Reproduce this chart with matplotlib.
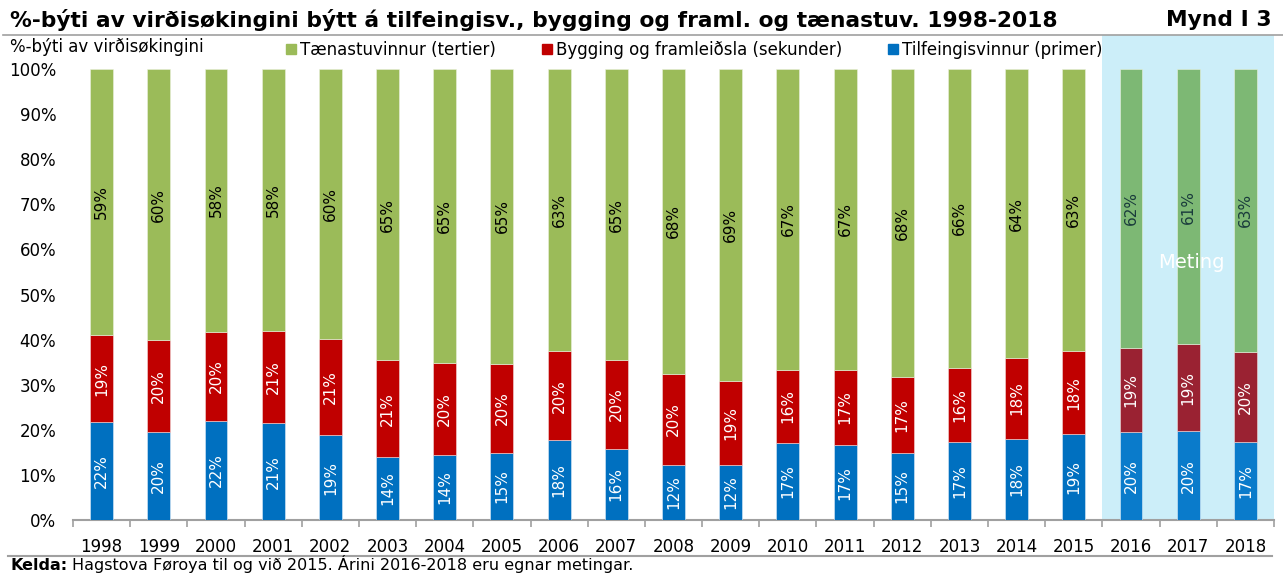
import matplotlib
matplotlib.use("Agg")
import matplotlib.pyplot as plt
from matplotlib.patches import Rectangle, Patch
from matplotlib.lines import Line2D
import numpy as np

years = [str(y) for y in range(1998, 2019)]
primer = [21.7, 19.5, 22.0, 21.4, 18.8, 14.0, 14.4, 14.9, 17.7, 15.8, 12.2,
          12.2, 17.1, 16.6, 14.9, 17.4, 18.0, 19.0, 19.6, 19.7, 17.3]
sekunder = [19.3, 20.4, 19.7, 20.6, 21.3, 21.4, 20.4, 19.7, 19.7, 19.6, 20.2,
            18.6, 16.2, 16.7, 16.8, 16.4, 17.9, 18.4, 18.6, 19.3, 20.0]
tertier = [59.0, 60.1, 58.3, 58.0, 59.9, 64.6, 65.2, 65.4, 62.6, 64.6, 67.6,
           69.2, 66.7, 66.7, 68.3, 66.2, 64.1, 62.6, 61.8, 61.0, 62.7]
n_estimated = 3  # 2016-2018 are estimates

GREEN, RED, BLUE = '#9BBB59', '#C00000', '#0070C0'
GREEN_E, RED_E, BLUE_E = '#7DB874', '#9A2232', '#0A7BCB'
HIGHLIGHT = '#CCEEF9'

plt.rcParams['font.family'] = ['DejaVu Sans']

fig = plt.figure(figsize=(12.83, 5.74), dpi=100)
W, H = 1283, 574
ax = fig.add_axes([73 / W, 1 - 520 / H, (1274 - 73) / W, (520 - 69) / H])

x = np.arange(len(years))
est = x >= len(years) - n_estimated
p = np.array(primer)
s = np.array(sekunder)
t = np.array(tertier)

col_b = [BLUE_E if e else BLUE for e in est]
col_r = [RED_E if e else RED for e in est]
col_g = [GREEN_E if e else GREEN for e in est]

bw = 0.4
ax.bar(x, p, bw, color=col_b, edgecolor='#DDEBF7', linewidth=0.4, zorder=3)
ax.bar(x, s, bw, bottom=p, color=col_r, edgecolor='#F2DCDB', linewidth=0.4, zorder=3)
ax.bar(x, t, bw, bottom=p + s, color=col_g, edgecolor='#EBF1DE', linewidth=0.4, zorder=3)

lab_fs = 11
for i in range(len(years)):
    ax.text(x[i], p[i] / 2, f"{p[i]:.0f}%", rotation=90, ha='center', va='center',
            color='white', fontsize=lab_fs, zorder=4)
    ax.text(x[i], p[i] + s[i] / 2, f"{s[i]:.0f}%", rotation=90, ha='center', va='center',
            color='white', fontsize=lab_fs, zorder=4)
    ax.text(x[i], p[i] + s[i] + t[i] / 2, f"{t[i]:.0f}%", rotation=90, ha='center',
            va='center', color='#1A3C3C' if est[i] else 'black', fontsize=lab_fs, zorder=4)

# estimate shading
ax.add_patch(Rectangle((len(years) - n_estimated - 0.5, 0), n_estimated, 1.075,
                       transform=ax.get_xaxis_transform(), color=HIGHLIGHT,
                       clip_on=False, zorder=0, linewidth=0))
ax.text(len(years) - 2 + 0.05, 57, "Meting", color='white', fontsize=14,
        ha='center', va='center', zorder=5)

ax.set_xlim(-0.5, len(years) - 0.5)
ax.set_ylim(0, 100)
ax.set_yticks(np.arange(0, 101, 10))
ax.set_yticklabels([f"{v}%" for v in range(0, 101, 10)])
ax.set_xticks(x)
ax.set_xticklabels(years)
ax.set_xticks(np.arange(-0.5, len(years), 1), minor=True)
ax.tick_params(axis='y', length=0, pad=12, labelsize=12)
ax.tick_params(axis='x', which='major', length=0, pad=13, labelsize=12)
ax.tick_params(axis='x', which='minor', length=5, width=1.2, color='#A0A0A0')
for side in ['left', 'right', 'top']:
    ax.spines[side].set_visible(False)
ax.spines['bottom'].set_color('#A0A0A0')
ax.spines['bottom'].set_linewidth(1.5)

# title and header
fig.text(10 / W, 1 - 20 / H, "%-býti av virðisøkingini býtt á tilfeingisv., bygging og framl. og tænastuv. 1998-2018",
         fontsize=15.7, fontweight='bold', ha='left', va='center')
fig.text(1272 / W, 1 - 20 / H, "Mynd I 3", fontsize=15.7, fontweight='bold', ha='right', va='center')
fig.add_artist(Line2D([3 / W, 1], [1 - 35 / H, 1 - 35 / H], color='#A0A0A0', linewidth=1.2))
fig.text(10 / W, 1 - 47 / H, "%-býti av virðisøkingini", fontsize=12, ha='left', va='center')

handles = [Patch(color=GREEN), Patch(color=RED), Patch(color=BLUE)]
labels = ["Tænastuvinnur (tertier)", "Bygging og framleiðsla (sekunder)", "Tilfeingisvinnur (primer)"]
fig.legend(handles, labels, ncol=3, frameon=False, fontsize=12, loc='center left',
           bbox_to_anchor=(286 / W, 1 - 50 / H), handlelength=0.6, handleheight=0.6,
           handletextpad=0.25, columnspacing=2.75, borderpad=0, borderaxespad=0)

# footer
fig.add_artist(Line2D([8 / W, 1272 / W], [1 - 556 / H, 1 - 556 / H], color='#A0A0A0', linewidth=1.5))
k = fig.text(10 / W, 1 / H, "Kelda:", fontsize=11.5, fontweight='bold', ha='left', va='bottom')
fig.canvas.draw()
bb = k.get_window_extent()
fig.text((bb.x1 + 5) / W, 1 / H, "Hagstova Føroya til og við 2015. Árini 2016-2018 eru egnar metingar.",
         fontsize=11.5, ha='left', va='bottom')

fig.savefig("out.png", dpi=100)
